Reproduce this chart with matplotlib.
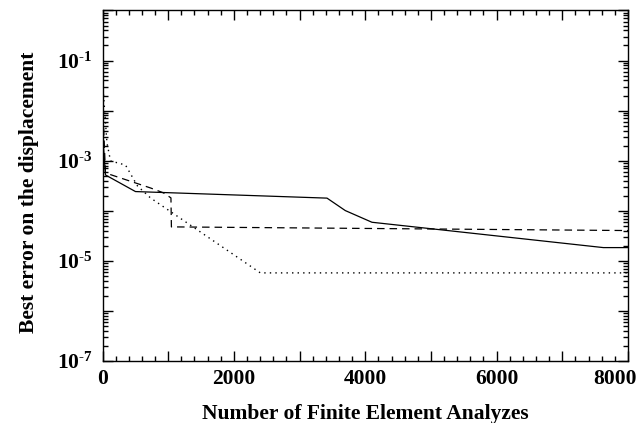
import matplotlib
matplotlib.use("Agg")
import matplotlib.pyplot as plt
import matplotlib.ticker as mticker
import matplotlib.transforms as mtrans
import numpy as np

plt.rcParams['font.family'] = ['Liberation Serif', 'DejaVu Serif']
plt.rcParams['font.weight'] = 'bold'
plt.rcParams['mathtext.fontset'] = 'custom'
plt.rcParams['mathtext.rm'] = 'Liberation Serif:bold'
plt.rcParams['mathtext.bf'] = 'Liberation Serif:bold'
plt.rcParams['mathtext.it'] = 'Liberation Serif:bold:italic'

# Data
solid_x = [5, 45, 502, 3418, 3696, 4102, 7625, 8000]
solid_y = [3e-3, 5.2e-4, 2.42e-4, 1.79e-4, 1.01e-4, 5.9e-5, 1.84e-5, 1.84e-5]

dashed_x = [10, 45, 730, 928, 1042, 1049, 8000]
dashed_y = [8e-3, 5.7e-4, 2.86e-4, 2.28e-4, 1.81e-4, 4.77e-5, 4.03e-5]

dotted_x = [15, 68, 122, 350, 532, 730, 2403, 8000]
dotted_y = [2.1e-2, 2.27e-3, 9.9e-4, 8.2e-4, 3.14e-4, 1.81e-4, 5.75e-6, 5.75e-6]

xlabel = "Number of Finite Element Analyzes"
ylabel = "Best error on the displacement"

W, H = 641, 423
L, R, T, B = 102.5, 628, 10.5, 361
fig = plt.figure(figsize=(W/100, H/100), dpi=100)
ax = fig.add_axes([L/W, 1-B/H, (R-L)/W, (B-T)/H])

ax.plot(solid_x, solid_y, color='black', lw=0.9, ls='-')
ax.plot(dashed_x, dashed_y, color='black', lw=0.9, ls=(0, (6, 4)))
ax.plot(dotted_x, dotted_y, color='black', lw=1.0, ls=(0, (1, 3)))

ax.set_yscale('log')
ax.set_xlim(0, 8000)
ax.set_ylim(1e-7, 1)

ax.xaxis.set_major_locator(mticker.MultipleLocator(1000))
ax.xaxis.set_minor_locator(mticker.MultipleLocator(200))
ax.xaxis.set_major_formatter(mticker.FuncFormatter(
    lambda v, p: f"{int(round(v))}" if int(round(v)) % 2000 == 0 else ""))

ax.yaxis.set_major_locator(mticker.LogLocator(base=10, numticks=20))
ax.yaxis.set_minor_locator(mticker.LogLocator(base=10, subs=np.arange(2, 10), numticks=20))
ax.yaxis.set_minor_formatter(mticker.NullFormatter())

def yfmt(v, p):
    e = int(round(np.log10(v)))
    if e in (-1, -3, -5, -7):
        return r'$\mathbf{10^{\text{-}%d}}$' % (-e)
    return ""
ax.yaxis.set_major_formatter(mticker.FuncFormatter(yfmt))

ax.tick_params(which='both', direction='in', top=True, right=True, labelsize=15.5, width=1.0)
ax.tick_params(which='major', length=7)
ax.tick_params(which='minor', length=3.8)
ax.tick_params(axis='x', which='major', pad=6)
ax.tick_params(axis='y', which='major', pad=7)
for s in ax.spines.values():
    s.set_linewidth(1.0)

for lab in ax.get_xticklabels() + ax.get_yticklabels():
    lab.set_fontweight('bold')

ax.set_xlabel(xlabel, fontsize=15.5, fontweight='bold')
ax.set_ylabel(ylabel, fontsize=15.5, fontweight='bold')
ax.xaxis.set_label_coords(0.5, (B-404)/(B-T))
ax.yaxis.set_label_coords((29-L)/(R-L), 0.48)
ax.yaxis.label.set_va('center')

fig.canvas.draw()
# shift the last x tick label left so it stays inside the figure
offset = mtrans.ScaledTranslation(-13/100, 0, fig.dpi_scale_trans)
for lab in ax.get_xticklabels():
    if lab.get_text() == '8000':
        lab.set_transform(lab.get_transform() + offset)

fig.savefig('out.png', dpi=100)
